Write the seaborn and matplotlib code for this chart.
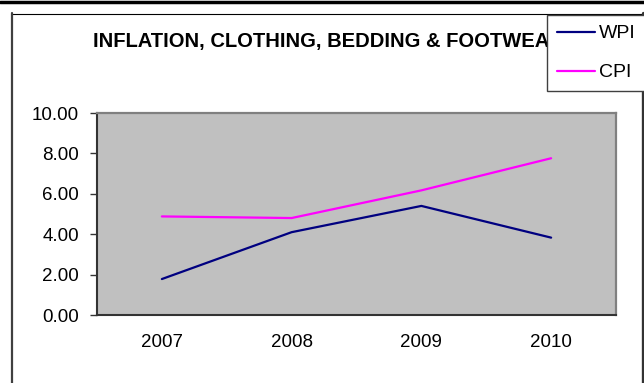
import pandas as pd
import seaborn as sns
import matplotlib
matplotlib.use("Agg")
import matplotlib.pyplot as plt
from matplotlib.lines import Line2D

# === Données ===
annees = ["2007", "2008", "2009", "2010"]
wpi = [1.78, 4.10, 5.40, 3.83]
cpi = [4.88, 4.80, 6.17, 7.76]
series = ["WPI", "CPI"]
couleurs = {"WPI": "#000080", "CPI": "#FF00FF"}
yticks = [0, 2, 4, 6, 8, 10]

df = pd.DataFrame({
    "pos": list(range(len(annees))) * 2,
    "valeur": wpi + cpi,
    "serie": ["WPI"] * len(wpi) + ["CPI"] * len(cpi),
})

sns.set_style("white")
plt.rcParams["font.family"] = ["Liberation Sans", "DejaVu Sans"]
plt.rcParams["text.color"] = "black"
plt.rcParams["xtick.color"] = "black"
plt.rcParams["ytick.color"] = "black"

W, H = 644, 383
fig = plt.figure(figsize=(W / 100, H / 100), dpi=100)
ax = fig.add_axes([97 / W, 1 - 315 / H, (616 - 97) / W, (315 - 113) / H])
ax.set_facecolor("#C0C0C0")

sns.lineplot(data=df, x="pos", y="valeur", hue="serie", hue_order=series,
             palette=couleurs, linewidth=1.6, ax=ax, legend=False)

# axes
ax.set_xlim(-0.5, len(annees) - 0.5)
ax.set_ylim(0, 10)
ax.set_yticks(yticks)
ax.set_yticklabels([f"{v:.2f}" for v in yticks], fontsize=13.5)
ax.set_xticks(range(len(annees)))
ax.set_xticklabels(annees, fontsize=13.5)
ax.set_xticks([i - 0.5 for i in range(len(annees) + 1)], minor=True)
ax.tick_params(axis="x", which="major", length=0, pad=14)
ax.tick_params(axis="x", which="minor", length=5, width=1, direction="out", color="#333333")
ax.tick_params(axis="y", length=5, width=1, direction="out", color="#333333", pad=8, left=True)
ax.set_xlabel("")
ax.set_ylabel("")
for s in ["left", "bottom"]:
    ax.spines[s].set_color("#333333")
    ax.spines[s].set_linewidth(1.5)
for s in ["top", "right"]:
    ax.spines[s].set_color("#808080")
    ax.spines[s].set_linewidth(1.6)

# cadre du graphique
fig.add_artist(Line2D([0, 1], [1 - 1.5 / H] * 2, color="black", lw=2.5))
fig.add_artist(Line2D([12.5 / W, 642 / W], [1 - 13.5 / H] * 2, color="black", lw=0.8))
fig.add_artist(Line2D([12.5 / W] * 2, [0, 1 - 13 / H], color="#404040", lw=1.6))
fig.add_artist(Line2D([642.5 / W] * 2, [0, 1 - 13 / H], color="#333333", lw=2.4))

# titre
fig.text(328 / W, 1 - 42 / H, "INFLATION, CLOTHING, BEDDING & FOOTWEAR",
         ha="center", va="center", fontsize=14.5, fontweight="bold", color="black")

# légende
handles = [Line2D([], [], color=couleurs[s], lw=1.6) for s in series]
leg = fig.legend(handles, series, loc="upper left",
                 bbox_to_anchor=(547 / W, 1 - 15 / H), borderaxespad=0,
                 fontsize=14, frameon=True, fancybox=False, shadow=False,
                 framealpha=1, facecolor="white", edgecolor="#404040",
                 handlelength=1.95, handletextpad=0.2, labelspacing=1.1,
                 borderpad=0.5)
leg.get_frame().set_linewidth(1.0)

fig.savefig("out.png", dpi=100)
